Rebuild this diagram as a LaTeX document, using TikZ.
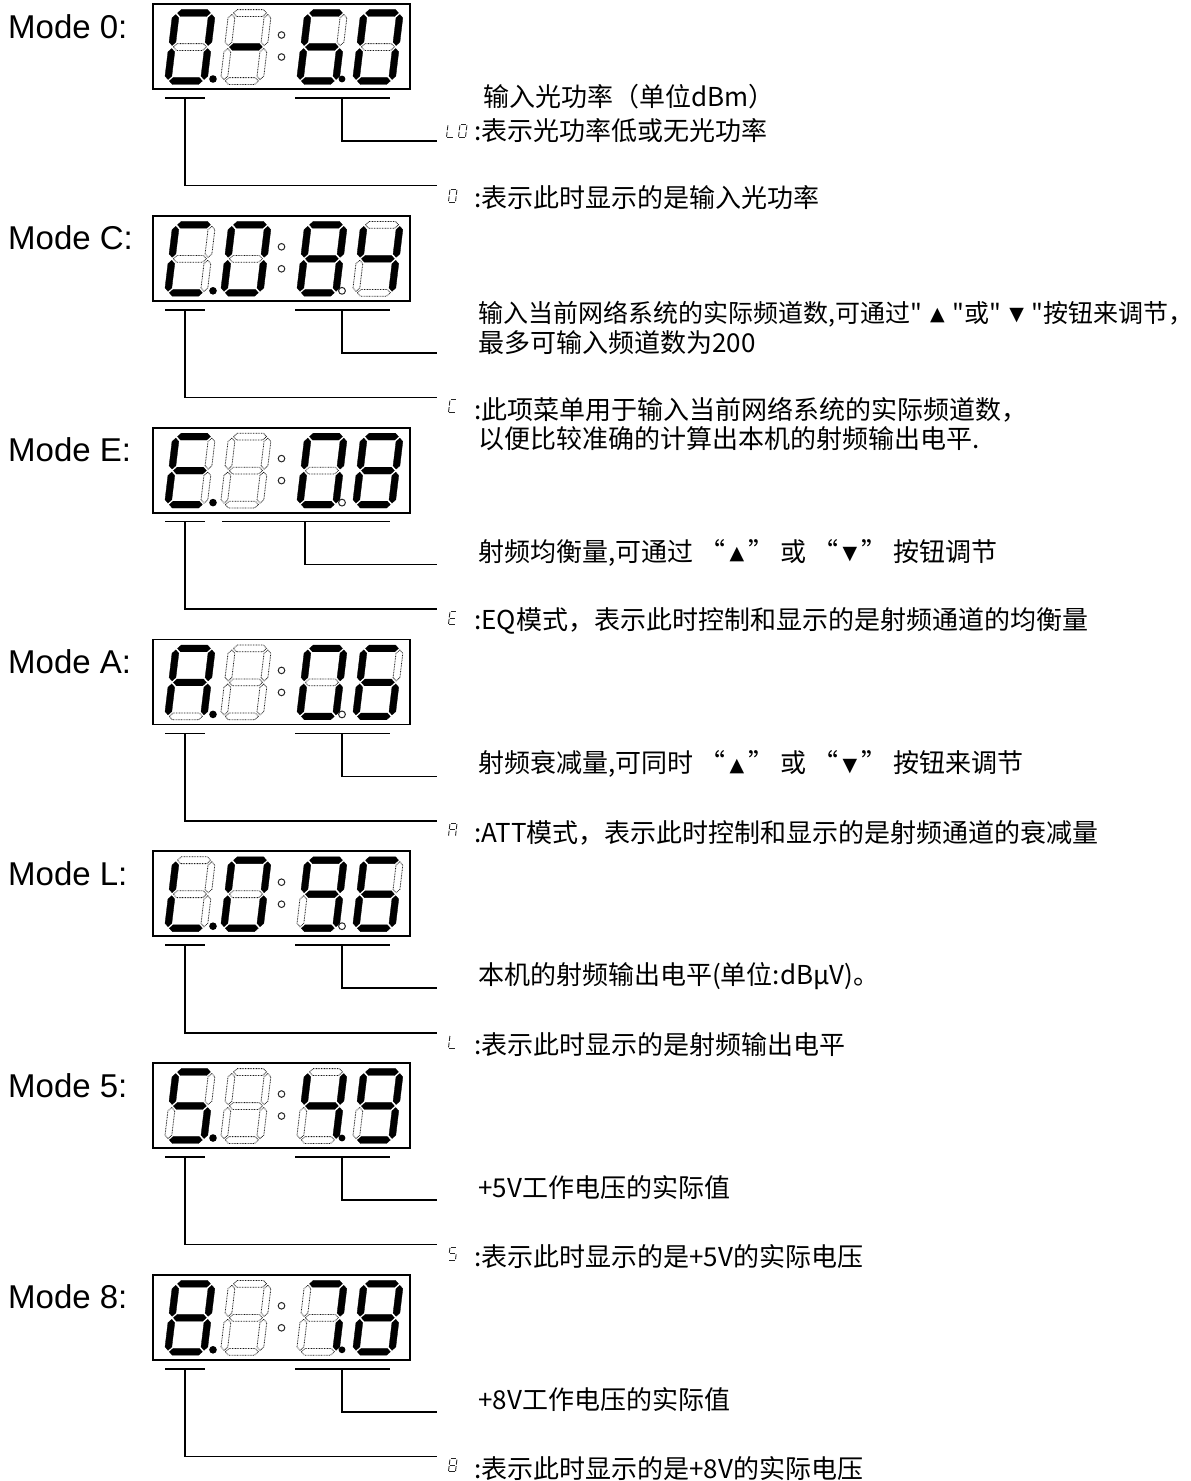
\documentclass[tikz,border=0pt]{standalone}
\usepackage{fontspec}
\setmainfont{Liberation Sans}
\newfontfamily\cjk{Noto Sans CJK SC}
\newfontfamily\dvs{DejaVu Sans}
\tikzset{
  s1/.style={fill=black, draw=black, line width=0.3pt},
  s0/.style={draw=black!90, line width=0.8pt, dash pattern=on 0.8pt off 0.8pt},
  box/.style={draw=black, line width=1.8pt},
  conn/.style={draw=black, line width=1.6pt},
  dpon/.style={fill=black},
  dpoff/.style={draw=black!85, line width=1pt, fill=white},
  coldot/.style={draw=black!85, line width=1pt},
  modelbl/.style={font=\fontsize{33}{38}\selectfont, anchor=base west, inner sep=0},
  txt/.style={font=\cjk\fontsize{26}{30}\selectfont, anchor=west, inner sep=0},
  txtsm/.style={font=\cjk\fontsize{25}{30}\selectfont, anchor=west, inner sep=0},
  mini/.style={draw=black!85, line width=0.9pt},
}
\newcommand\hseg[4]{\path[#1] (#2,#4) -- (#2+3.4,#4-3.4) -- (#3-3.4,#4-3.4) -- (#3,#4) -- (#3-3.4,#4+3.4) -- (#2+3.4,#4+3.4) -- cycle;}
\newcommand\vseg[4]{\path[#1] (#2,#3) -- (#2+3.4,#3+3.4) -- (#2+3.4,#4-3.4) -- (#2,#4) -- (#2-3.4,#4-3.4) -- (#2-3.4,#3+3.4) -- cycle;}
\def\sevensegs#1#2#3#4#5#6#7{%
  \hseg{s#1}{1.5}{34.5}{0}%
  \vseg{s#2}{36}{1.5}{32.5}%
  \vseg{s#3}{36}{35.5}{66.5}%
  \hseg{s#4}{1.5}{34.5}{68}%
  \vseg{s#5}{0}{35.5}{66.5}%
  \vseg{s#6}{0}{1.5}{32.5}%
  \hseg{s#7}{1.5}{34.5}{34}%
}
\newcommand\seven[3]{\begin{scope}[shift={(#1,#2)},xslant=0.12]\expandafter\sevensegs#3\end{scope}}
\def\minisegs#1#2#3#4#5#6#7{%
 \ifnum#1=1 \draw[mini] (0.8,0) -- (6.2,0);\fi
 \ifnum#2=1 \draw[mini] (7,0.8) -- (7,5.7);\fi
 \ifnum#3=1 \draw[mini] (7,7.3) -- (7,12.2);\fi
 \ifnum#4=1 \draw[mini] (0.8,13) -- (6.2,13);\fi
 \ifnum#5=1 \draw[mini] (0,7.3) -- (0,12.2);\fi
 \ifnum#6=1 \draw[mini] (0,0.8) -- (0,5.7);\fi
 \ifnum#7=1 \draw[mini] (0.8,6.5) -- (6.2,6.5);\fi}
\newcommand\minig[3]{\begin{scope}[shift={(#1,#2)},xslant=0.12]\expandafter\minisegs#3\end{scope}}
\def\dZero{1111110}\def\dDash{0000001}\def\dSix{1011111}\def\dC{1001110}
\def\dEight{1111111}\def\dFour{0110011}\def\dE{1001111}\def\dBlank{0000000}
\def\dA{1110111}\def\dL{0001110}\def\dNine{1111011}\def\dFive{1011011}\def\dSeven{1110000}
\newcommand\display[7]{%
  \node[modelbl] (ml#2) at (8,#1+34) {Mode #2:};
  \draw[box] (153,#1) rectangle (410,#1+85);
  \seven{176}{#1+9}{#3}
  \seven{232}{#1+9}{#4}
  \seven{308}{#1+9}{#5}
  \seven{364}{#1+9}{#6}
  \fill[dpon] (213,#1+75) circle (3.8pt);
  \path[#7] (342,#1+75) circle (3.4pt);
  \draw[coldot] (281.5,#1+31) circle (3.3pt);
  \draw[coldot] (281.5,#1+53) circle (3.3pt);
}
\newcommand\connect[4]{%
  \coordinate (lbA#1) at (165,#2+94);
  \coordinate (lbB#1) at (205,#2+94);
  \coordinate (lv#1) at (185,#2+94);
  \coordinate (le#1) at (437,#2+181.5);
  \coordinate (rbA#1) at (#3,#2+94);
  \coordinate (rbB#1) at (390,#2+94);
  \coordinate (rv#1) at (#4,#2+94);
  \coordinate (re#1) at (437,#2+137);
  \draw[conn] (lbA#1) -- (lbB#1);
  \draw[conn] (lv#1) |- (le#1);
  \draw[conn] (rbA#1) -- (rbB#1);
  \draw[conn] (rv#1) |- (re#1);
}
\newcommand\tri[1]{\raisebox{1.5pt}{\dvs\fontsize{19}{20}\selectfont #1}}
\begin{document}
\begin{tikzpicture}[x=1pt,y=-1pt]
\useasboundingbox (0,0) rectangle (1191,1481);
% Mode 0
\display{4}{0}{\dZero}{\dDash}{\dSix}{\dZero}{dpon}
\connect{0}{4}{295}{342}
\node[txt] (t0a) at (483,97) {输入光功率（单位dBm）};
\minig{448}{124.5}{\dL}
\minig{460}{124.5}{\dZero}
\node[txt] (t0b) at (474,131) {:表示光功率低或无光功率};
\minig{450}{189}{\dZero}
\node[txt] (t0c) at (474,4+181.5+12) {:表示此时显示的是输入光功率};
% Mode C
\display{215.8}{C}{\dC}{\dZero}{\dEight}{\dFour}{dpoff}
\connect{C}{215.8}{295}{342}
\node[txtsm] (tCa) at (478,314) {输入当前网络系统的实际频道数,可通过"\hspace{8pt}\tri{▲}\hspace{8pt}"或"\hspace{8pt}\tri{▼}\hspace{8pt}"按钮来调节，};
\node[txt] (tCb) at (478,343) {最多可输入频道数为200};
\minig{450}{215.8+181.5+2.5}{\dC}
\node[txt] (tCc) at (474,215.8+181.5+12) {:此项菜单用于输入当前网络系统的实际频道数，};
\node[txt] (tCd) at (478,215.8+181.5+41) {以便比较准确的计算出本机的射频输出电平.};
% Mode E
\display{427.6}{E}{\dE}{\dBlank}{\dZero}{\dEight}{dpoff}
\connect{E}{427.6}{222}{305}
\node[txt] (tEa) at (478,427.6+137-12) {射频均衡量,可通过 “\,\tri{▲}\,” 或 “\,\tri{▼}\,” 按钮调节};
\minig{450}{427.6+181.5+2.5}{\dE}
\node[txt] (tEb) at (474,427.6+181.5+12) {:EQ模式，表示此时控制和显示的是射频通道的均衡量};
% Mode A
\display{639.4}{A}{\dA}{\dBlank}{\dZero}{\dSix}{dpoff}
\connect{A}{639.4}{295}{342}
\node[txt] (tAa) at (478,639.4+137-12) {射频衰减量,可同时 “\,\tri{▲}\,” 或 “\,\tri{▼}\,” 按钮来调节};
\minig{450}{639.4+181.5+2.5}{\dA}
\node[txt] (tAb) at (474,639.4+181.5+12) {:ATT模式，表示此时控制和显示的是射频通道的衰减量};
% Mode L
\display{851.2}{L}{\dL}{\dZero}{\dNine}{\dSix}{dpoff}
\connect{L}{851.2}{295}{342}
\node[txt] (tLa) at (478,851.2+137-12) {本机的射频输出电平(单位:dBμV)。};
\minig{450}{851.2+181.5+2.5}{\dL}
\node[txt] (tLb) at (474,851.2+181.5+12) {:表示此时显示的是射频输出电平};
% Mode 5
\display{1063}{5}{\dFive}{\dBlank}{\dFour}{\dNine}{dpon}
\connect{5}{1063}{295}{342}
\node[txt] (t5a) at (478,1063+137-12) {+5V工作电压的实际值};
\minig{450}{1063+181.5+2.5}{\dFive}
\node[txt] (t5b) at (474,1063+181.5+12) {:表示此时显示的是+5V的实际电压};
% Mode 8
\display{1274.8}{8}{\dEight}{\dBlank}{\dSeven}{\dEight}{dpon}
\connect{8}{1274.8}{295}{342}
\node[txt] (t8a) at (478,1274.8+137-12) {+8V工作电压的实际值};
\minig{450}{1274.8+181.5+2.5}{\dEight}
\node[txt] (t8b) at (474,1274.8+181.5+12) {:表示此时显示的是+8V的实际电压};
\end{tikzpicture}
\end{document}
